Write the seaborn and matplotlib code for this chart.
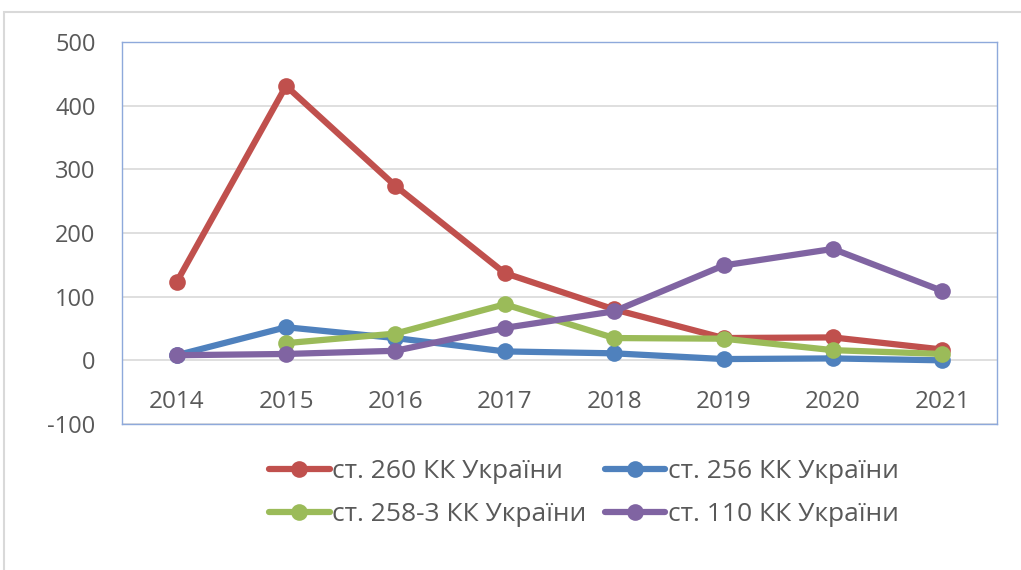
import numpy as np
import pandas as pd
import matplotlib
matplotlib.use('Agg')
import matplotlib.pyplot as plt
import seaborn as sns
from matplotlib.patches import Rectangle

# Дані з графіка
years = ['2014', '2015', '2016', '2017', '2018', '2019', '2020', '2021']
series_names = ['ст. 260 КК України', 'ст. 256 КК України',
                'ст. 258-3 КК України', 'ст. 110 КК України']
art_260 = [123, 431, 274, 137, 80, 35, 36, 17]
art_256 = [8, 52, 35, 14, 11, 2, 3, 0]
art_258_3 = [np.nan, 27, 42, 88, 35, 34, 16, 10]
art_110 = [8, 10, 15, 51, 77, 149, 175, 109]
colors = ['#C0504D', '#4F81BD', '#9BBB59', '#8064A2']

sns.set_style('white')
plt.rcParams['font.family'] = ['Open Sans', 'DejaVu Sans']

rows = []
for name, vals in zip(series_names, [art_260, art_256, art_258_3, art_110]):
    for i, v in enumerate(vals):
        rows.append({'idx': i, 'value': v, 'series': name})
df = pd.DataFrame(rows)

fig = plt.figure(figsize=(10.21, 5.70), dpi=100)
fig.patches.append(Rectangle((4 / 1021, -0.01), 1.02, 1 - 12 / 570 + 0.01,
                             transform=fig.transFigure, fill=False,
                             edgecolor='#D9D9D9', linewidth=1.5))
ax = fig.add_axes([122 / 1021, 146 / 570, 875 / 1021, 382 / 570])

sns.lineplot(data=df, x='idx', y='value', hue='series', palette=colors,
             hue_order=series_names, marker='o', markersize=12,
             markeredgewidth=0, linewidth=4.5, ax=ax, legend=False)

ax.set_xlim(-0.5, 7.5)
ax.set_ylim(-100, 500)
yt = list(range(-100, 501, 100))
ax.set_yticks(yt)
ax.set_yticklabels([str(v) for v in yt])  # дефіс замість мінуса, як в оригіналі
ax.yaxis.grid(True, color='#D9D9D9', linewidth=1.2)
ax.set_axisbelow(True)
ax.tick_params(axis='y', labelsize=17, labelcolor='#595959', length=0, pad=19)
ax.set_xticks([])
ax.set_xlabel('')
ax.set_ylabel('')
for sp in ax.spines.values():
    sp.set_color('#8EA9DB')
    sp.set_linewidth(1)

# підписи років під нульовою лінією
for i, y in enumerate(years):
    ax.text(i, -66, y, ha='center', va='center', fontsize=17.5, color='#595959')

handles = [plt.Line2D([], [], color=c, linewidth=4.5, marker='o',
                      markersize=12, markeredgewidth=0) for c in colors]
# порядок для заповнення рядками: 260, 256 / 258-3, 110
order = [0, 2, 1, 3]
fig.legend([handles[k] for k in order], [series_names[k] for k in order],
           loc='center', ncol=2, bbox_to_anchor=(0.572, 0.135),
           frameon=False, fontsize=19, labelcolor='#595959',
           handlelength=2.3, handletextpad=0.1, columnspacing=0.68,
           labelspacing=0.7)

fig.savefig('out.png', dpi=100)
